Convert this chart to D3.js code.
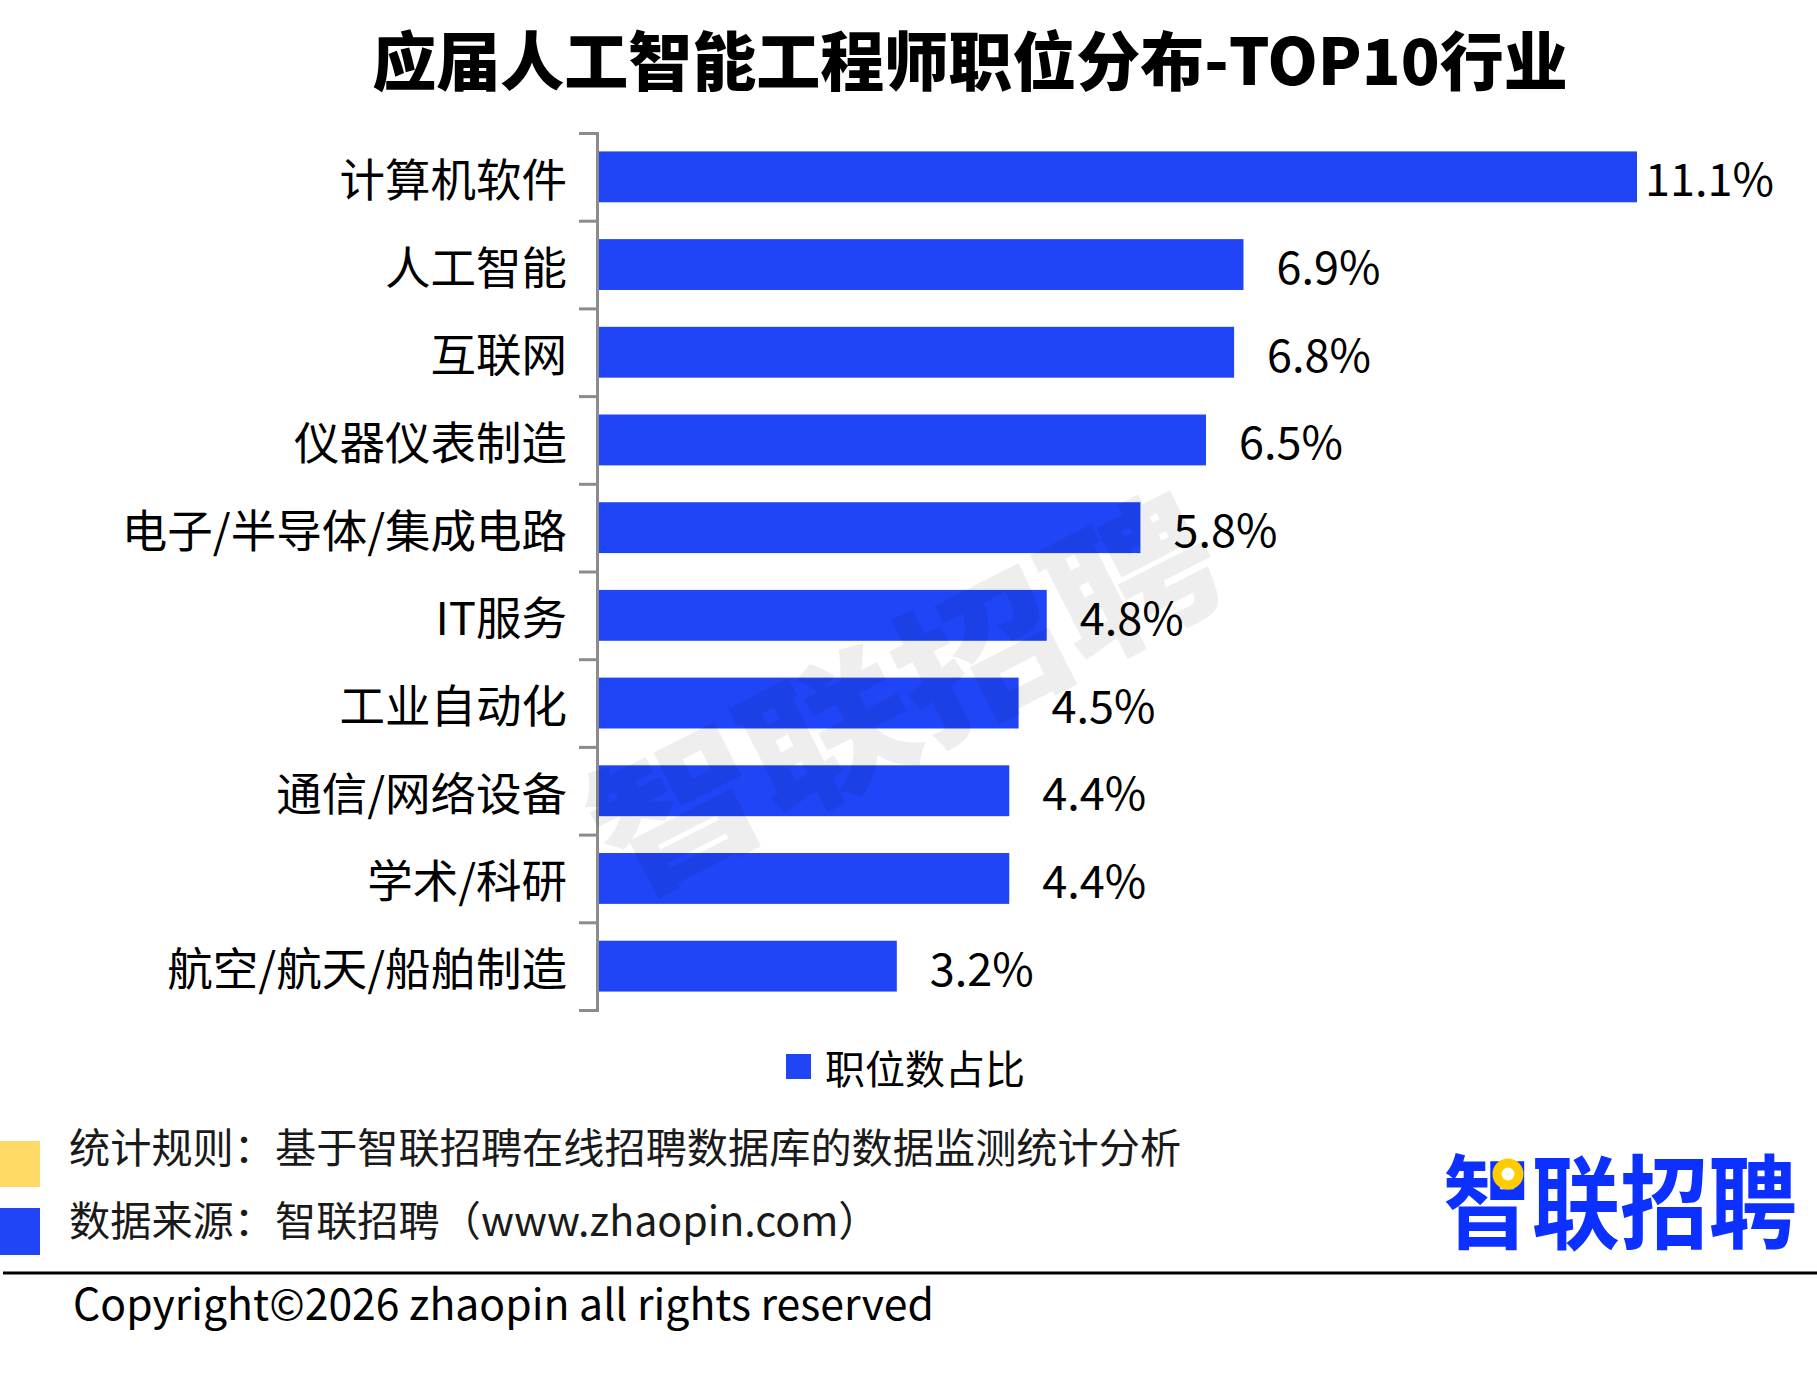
<!DOCTYPE html>
<html>
<head>
<meta charset="utf-8">
<script src="https://cdn.jsdelivr.net/npm/d3@7"></script>
<style>
  html, body { margin: 0; padding: 0; background: #fff; }
  svg { display: block; }
  text { font-family: "Noto Sans CJK SC", "Noto Sans", sans-serif; }
</style>
</head>
<body>
<svg id="chart" width="1817" height="1373"></svg>
<script>
// ---- data ----
const categories = ["计算机软件", "人工智能", "互联网", "仪器仪表制造", "电子/半导体/集成电路", "IT服务", "工业自动化", "通信/网络设备", "学术/科研", "航空/航天/船舶制造"];
const values = [11.1, 6.9, 6.8, 6.5, 5.8, 4.8, 4.5, 4.4, 4.4, 3.2];
const valueLabels = ["11.1%", "6.9%", "6.8%", "6.5%", "5.8%", "4.8%", "4.5%", "4.4%", "4.4%", "3.2%"];
const seriesName = "职位数占比";
const titleText = "应届人工智能工程师职位分布-TOP10行业";
const footnotes = ["统计规则：基于智联招聘在线招聘数据库的数据监测统计分析", "数据来源：智联招聘（www.zhaopin.com）"];
const copyrightText = "Copyright©2026 zhaopin all rights reserved";
const brandText = "智联招聘";

const BLUE = "#1f45f6";
const YELLOW = "#ffd966";
const AXIS = "#8c8c8c";

const svg = d3.select("#chart");
svg.append("rect").attr("width", 1817).attr("height", 1373).attr("fill", "#fff");

// title
svg.append("text")
  .attr("x", 970).attr("y", 85)
  .attr("text-anchor", "middle")
  .attr("font-size", 64).attr("font-weight", 900)
  .attr("fill", "#000")
  .text(titleText);

// scales
const yTop = 133, yBot = 1010, xLeft = 597, xRight = 1637;
const y = d3.scaleBand().domain(categories).range([yTop, yBot]).paddingInner(0.42).paddingOuter(0.21);
const x = d3.scaleLinear().domain([0, d3.max(values)]).range([xLeft, xRight]);
const data = categories.map((c, i) => ({ cat: c, value: values[i], label: valueLabels[i] }));

// bars
svg.append("g").selectAll("rect").data(data).join("rect")
  .attr("x", x(0)).attr("y", d => y(d.cat))
  .attr("width", d => x(d.value) - x(0))
  .attr("height", y.bandwidth())
  .attr("fill", BLUE);

// value labels
const maxV = d3.max(values);
svg.append("g").selectAll("text").data(data).join("text")
  .attr("x", d => x(d.value) + (d.value === maxV ? 8 : 33))
  .attr("y", d => y(d.cat) + y.bandwidth() / 2)
  .attr("dominant-baseline", "central")
  .attr("font-size", 45).attr("fill", "#000")
  .text(d => d.label);

// boundary ticks axis
const yb = d3.scaleLinear().domain([0, categories.length]).range([yTop, yBot]);
const tickAxis = svg.append("g").attr("transform", `translate(${xLeft},0)`)
  .call(d3.axisLeft(yb).tickValues(d3.range(categories.length + 1)).tickSize(18).tickSizeOuter(18).tickFormat(""));
tickAxis.selectAll("path, line").attr("stroke", AXIS).attr("stroke-width", 3);

// category labels axis
const labAxis = svg.append("g").attr("transform", `translate(${xLeft},0)`)
  .call(d3.axisLeft(y).tickSize(0).tickPadding(30));
labAxis.select(".domain").remove();
labAxis.selectAll("text")
  .attr("font-size", 45.5).attr("fill", "#000")
  .attr("font-family", '"Noto Sans CJK SC", sans-serif')
  .attr("dy", null).attr("dominant-baseline", "central");

// watermark
svg.append("text")
  .attr("transform", "translate(900,686) rotate(-27)")
  .attr("text-anchor", "middle").attr("dominant-baseline", "central")
  .attr("font-size", 150).attr("font-weight", 900)
  .attr("textLength", 680).attr("lengthAdjust", "spacingAndGlyphs")
  .attr("fill", "#000").attr("fill-opacity", 0.065)
  .text(brandText);

// legend
svg.append("rect").attr("x", 786).attr("y", 1054).attr("width", 25).attr("height", 25).attr("fill", BLUE);
svg.append("text").attr("x", 825).attr("y", 1067)
  .attr("dominant-baseline", "central").attr("font-size", 40).attr("fill", "#000")
  .text(seriesName);

// footnotes
svg.append("rect").attr("x", 0).attr("y", 1141).attr("width", 40).attr("height", 46).attr("fill", YELLOW);
svg.append("rect").attr("x", 0).attr("y", 1208).attr("width", 40).attr("height", 47).attr("fill", BLUE);
svg.selectAll("text.fn").data(footnotes).join("text").attr("class", "fn")
  .attr("x", 69).attr("y", (d, i) => i === 0 ? 1145 : 1218)
  .attr("dominant-baseline", "central").attr("font-size", 41.2).attr("fill", "#1a1a1a")
  .text(d => d);

// separator line
svg.append("line").attr("x1", 3).attr("x2", 1817).attr("y1", 1273).attr("y2", 1273)
  .attr("stroke", "#000").attr("stroke-width", 3);

// copyright
svg.append("text").attr("x", 73).attr("y", 1320)
  .attr("font-size", 43).attr("fill", "#000")
  .attr("textLength", 861).attr("lengthAdjust", "spacingAndGlyphs")
  .text(copyrightText);

// brand logo
svg.append("text")
  .attr("transform", "translate(1443,1241) scale(1,1.15)")
  .attr("x", 0).attr("y", 0)
  .attr("font-size", 88.5).attr("font-weight", 700).attr("fill", "#0c30ff")
  .text(brandText);
svg.append("circle").attr("cx", 1508).attr("cy", 1174).attr("r", 11)
  .attr("fill", "#fff").attr("stroke", "#ffcc00").attr("stroke-width", 9);
</script>
</body>
</html>
